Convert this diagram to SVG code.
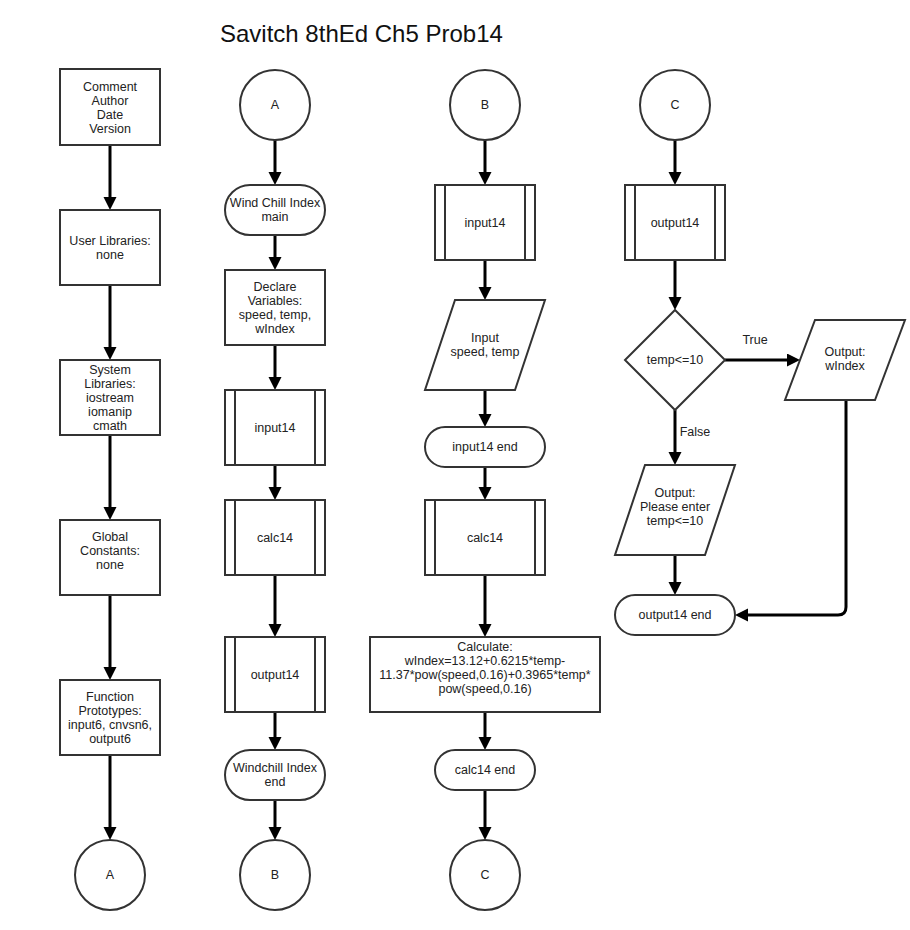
<svg xmlns="http://www.w3.org/2000/svg" width="910" height="930" viewBox="0 0 910 930">
<defs>
<style>
.n{fill:#fff;stroke:#333;stroke-width:2}
.t{font-family:"Liberation Sans",Arial,sans-serif;font-size:12.5px;fill:#222;text-anchor:middle}
.c{fill:none;stroke:#000;stroke-width:3}
.title{font-family:"Liberation Sans",Arial,sans-serif;font-size:24px;fill:#111}
</style>
<marker id="ah" markerUnits="userSpaceOnUse" markerWidth="14" markerHeight="14" refX="2" refY="6.5" orient="auto">
<path d="M0,0 L13,6.5 L0,13 z" fill="#000"/>
</marker>
</defs>
<rect width="910" height="930" fill="#fff"/>
<text class="title" x="220" y="42">Savitch 8thEd Ch5 Prob14</text>

<g id="connectors">
<!-- column 1 -->
<path class="c" marker-end="url(#ah)" d="M110,145 V199"/>
<path class="c" marker-end="url(#ah)" d="M110,285 V349"/>
<path class="c" marker-end="url(#ah)" d="M110,435 V509"/>
<path class="c" marker-end="url(#ah)" d="M110,595 V669"/>
<path class="c" marker-end="url(#ah)" d="M110,755 V829"/>
<!-- column 2 -->
<path class="c" marker-end="url(#ah)" d="M275,140 V174"/>
<path class="c" marker-end="url(#ah)" d="M275,235 V259"/>
<path class="c" marker-end="url(#ah)" d="M275,345 V379"/>
<path class="c" marker-end="url(#ah)" d="M275,465 V489"/>
<path class="c" marker-end="url(#ah)" d="M275,575 V626"/>
<path class="c" marker-end="url(#ah)" d="M275,712 V739"/>
<path class="c" marker-end="url(#ah)" d="M275,800 V829"/>
<!-- column 3 -->
<path class="c" marker-end="url(#ah)" d="M485,140 V174"/>
<path class="c" marker-end="url(#ah)" d="M485,260 V289"/>
<path class="c" marker-end="url(#ah)" d="M485,390 V416"/>
<path class="c" marker-end="url(#ah)" d="M485,467 V489"/>
<path class="c" marker-end="url(#ah)" d="M485,575 V626"/>
<path class="c" marker-end="url(#ah)" d="M485,712 V739"/>
<path class="c" marker-end="url(#ah)" d="M485,790 V829"/>
<!-- column 4 -->
<path class="c" marker-end="url(#ah)" d="M675,140 V174"/>
<path class="c" marker-end="url(#ah)" d="M675,260 V299"/>
<path class="c" marker-end="url(#ah)" d="M725,360 H789"/>
<path class="c" marker-end="url(#ah)" d="M675,410 V454"/>
<path class="c" marker-end="url(#ah)" d="M675,555 V584"/>
<path class="c" marker-end="url(#ah)" d="M846,400 V607 Q846,615 838,615 H746"/>
<text class="t" x="755" y="344">True</text>
<text class="t" x="695" y="436">False</text>
</g>

<!-- column 1 -->
<g id="comment">
<rect class="n" x="60" y="69" width="100" height="76"/>
<text class="t" x="110" y="91">Comment</text>
<text class="t" x="110" y="105">Author</text>
<text class="t" x="110" y="119">Date</text>
<text class="t" x="110" y="133">Version</text>
</g>
<g id="userlib">
<rect class="n" x="60" y="210" width="100" height="75"/>
<text class="t" x="110" y="245">User Libraries:</text>
<text class="t" x="110" y="259">none</text>
</g>
<g id="syslib">
<rect class="n" x="60" y="360" width="100" height="75"/>
<text class="t" x="110" y="374">System</text>
<text class="t" x="110" y="388">Libraries:</text>
<text class="t" x="110" y="402">iostream</text>
<text class="t" x="110" y="416">iomanip</text>
<text class="t" x="110" y="430">cmath</text>
</g>
<g id="globals">
<rect class="n" x="60" y="520" width="100" height="75"/>
<text class="t" x="110" y="541">Global</text>
<text class="t" x="110" y="555">Constants:</text>
<text class="t" x="110" y="569">none</text>
</g>
<g id="protos">
<rect class="n" x="60" y="680" width="100" height="75"/>
<text class="t" x="110" y="701">Function</text>
<text class="t" x="110" y="715">Prototypes:</text>
<text class="t" x="110" y="729">input6, cnvsn6,</text>
<text class="t" x="110" y="743">output6</text>
</g>
<g id="connA1">
<circle class="n" cx="110" cy="875" r="35"/>
<text class="t" x="110" y="879">A</text>
</g>

<!-- column 2 -->
<g id="connA2">
<circle class="n" cx="275" cy="105" r="35"/>
<text class="t" x="275" y="109">A</text>
</g>
<g id="mainstart">
<rect class="n" x="225" y="185" width="100" height="50" rx="25"/>
<text class="t" x="275" y="207">Wind Chill Index</text>
<text class="t" x="275" y="221">main</text>
</g>
<g id="declare">
<rect class="n" x="225" y="270" width="100" height="75"/>
<text class="t" x="275" y="291">Declare</text>
<text class="t" x="275" y="305">Variables:</text>
<text class="t" x="275" y="319">speed, temp,</text>
<text class="t" x="275" y="333">wIndex</text>
</g>
<g id="callinput">
<rect class="n" x="225" y="390" width="100" height="75"/>
<path class="n" d="M235,390 V465 M315,390 V465"/>
<text class="t" x="275" y="432">input14</text>
</g>
<g id="callcalc">
<rect class="n" x="225" y="500" width="100" height="75"/>
<path class="n" d="M235,500 V575 M315,500 V575"/>
<text class="t" x="275" y="542">calc14</text>
</g>
<g id="calloutput">
<rect class="n" x="225" y="637" width="100" height="75"/>
<path class="n" d="M235,637 V712 M315,637 V712"/>
<text class="t" x="275" y="679">output14</text>
</g>
<g id="mainend">
<rect class="n" x="225" y="750" width="100" height="50" rx="25"/>
<text class="t" x="275" y="772">Windchill Index</text>
<text class="t" x="275" y="786">end</text>
</g>
<g id="connB1">
<circle class="n" cx="275" cy="875" r="35"/>
<text class="t" x="275" y="879">B</text>
</g>

<!-- column 3 -->
<g id="connB2">
<circle class="n" cx="485" cy="105" r="35"/>
<text class="t" x="485" y="109">B</text>
</g>
<g id="input14">
<rect class="n" x="435" y="185" width="100" height="75"/>
<path class="n" d="M445,185 V260 M525,185 V260"/>
<text class="t" x="485" y="227">input14</text>
</g>
<g id="inputio">
<polygon class="n" points="455,300 545,300 515,390 425,390"/>
<text class="t" x="485" y="342">Input</text>
<text class="t" x="485" y="356">speed, temp</text>
</g>
<g id="inputend">
<rect class="n" x="425" y="427" width="120" height="40" rx="20"/>
<text class="t" x="485" y="451">input14 end</text>
</g>
<g id="calc14">
<rect class="n" x="425" y="500" width="120" height="75"/>
<path class="n" d="M435,500 V575 M535,500 V575"/>
<text class="t" x="485" y="542">calc14</text>
</g>
<g id="calculate">
<rect class="n" x="370" y="637" width="230" height="75"/>
<text class="t" x="485" y="651">Calculate:</text>
<text class="t" x="485" y="665">wIndex=13.12+0.6215*temp-</text>
<text class="t" x="485" y="679">11.37*pow(speed,0.16)+0.3965*temp*</text>
<text class="t" x="485" y="693">pow(speed,0.16)</text>
</g>
<g id="calcend">
<rect class="n" x="435" y="750" width="100" height="40" rx="20"/>
<text class="t" x="485" y="774">calc14 end</text>
</g>
<g id="connC1">
<circle class="n" cx="485" cy="875" r="35"/>
<text class="t" x="485" y="879">C</text>
</g>

<!-- column 4 -->
<g id="connC2">
<circle class="n" cx="675" cy="105" r="35"/>
<text class="t" x="675" y="109">C</text>
</g>
<g id="output14">
<rect class="n" x="625" y="185" width="100" height="75"/>
<path class="n" d="M635,185 V260 M715,185 V260"/>
<text class="t" x="675" y="227">output14</text>
</g>
<g id="decision">
<polygon class="n" points="675,310 725,360 675,410 625,360"/>
<text class="t" x="675" y="364">temp&lt;=10</text>
</g>
<g id="outwindex">
<polygon class="n" points="815,320 905,320 875,400 785,400"/>
<text class="t" x="845" y="356">Output:</text>
<text class="t" x="845" y="370">wIndex</text>
</g>
<g id="outplease">
<polygon class="n" points="645,465 735,465 705,555 615,555"/>
<text class="t" x="675" y="497">Output:</text>
<text class="t" x="675" y="511">Please enter</text>
<text class="t" x="675" y="525">temp&lt;=10</text>
</g>
<g id="outputend">
<rect class="n" x="615" y="595" width="120" height="40" rx="20"/>
<text class="t" x="675" y="619">output14 end</text>
</g>
</svg>
